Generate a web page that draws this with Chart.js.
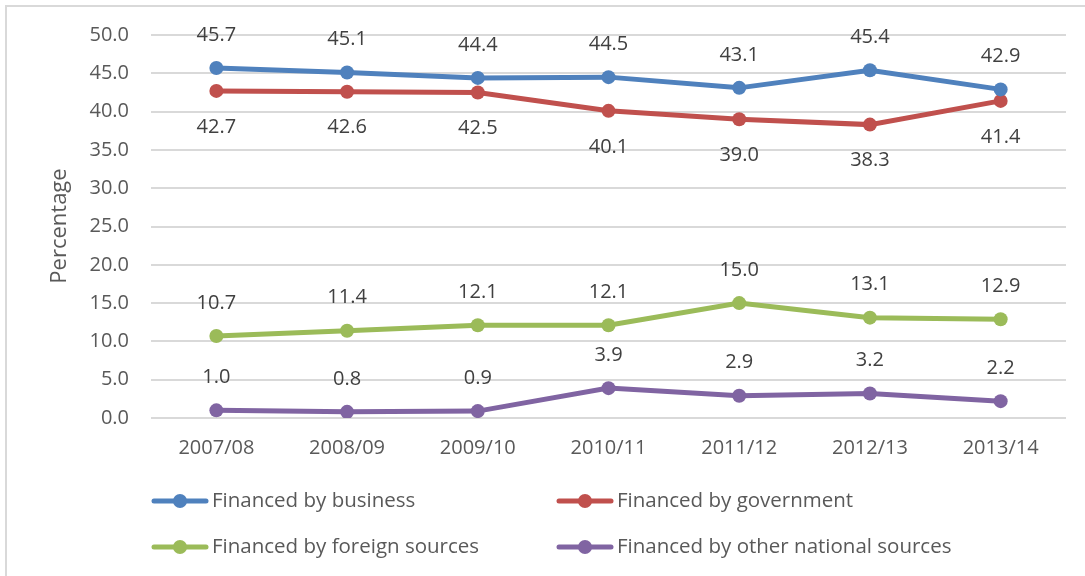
<!DOCTYPE html>
<html><head><meta charset="utf-8">
<script src="https://cdn.jsdelivr.net/npm/chart.js@4.4.1/dist/chart.umd.min.js"></script>
<style>html,body{margin:0;padding:0;background:#fff}#wrap{width:1085px;height:576px;position:relative}</style>
</head><body><div id="wrap"><canvas id="c" width="1085" height="576"></canvas></div>
<script>
const categories = ["2007/08","2008/09","2009/10","2010/11","2011/12","2012/13","2013/14"];
const business = [45.7,45.1,44.4,44.5,43.1,45.4,42.9];
const government = [42.7,42.6,42.5,40.1,39.0,38.3,41.4];
const foreign = [10.7,11.4,12.1,12.1,15.0,13.1,12.9];
const otherNational = [1.0,0.8,0.9,3.9,2.9,3.2,2.2];
const seriesNames = ["Financed by business","Financed by government","Financed by foreign sources","Financed by other national sources"];
const colors = ["#4f81bd","#c0504d","#9bbb59","#8064a2"];
const labelPos = ["above","below","above","above"];
const axisTitle = "Percentage";

const FONT = "'Open Sans', 'Liberation Sans', sans-serif";

const mk = (i, data) => ({
  label: seriesNames[i], data, borderColor: colors[i], backgroundColor: colors[i],
  borderWidth: 5, pointRadius: 7, pointHoverRadius: 7, pointBorderWidth: 0, tension: 0,
  labelPos: labelPos[i]
});

const decor = {
  id: 'decor',
  afterDatasetsDraw(chart) {
    const ctx = chart.ctx;
    ctx.save();
    ctx.font = "20px " + FONT;
    ctx.fillStyle = "#404040";
    ctx.textAlign = "center";
    ctx.textBaseline = "middle";
    chart.data.datasets.forEach((ds, di) => {
      const meta = chart.getDatasetMeta(di);
      meta.data.forEach((pt, i) => {
        const dy = ds.labelPos === 'below' ? 36 : -33;
        ctx.fillText(ds.data[i].toFixed(1), pt.x, pt.y + dy);
      });
    });
    ctx.restore();
  },
  afterDraw(chart) {
    const ctx = chart.ctx;
    ctx.save();
    ctx.strokeStyle = "#d9d9d9"; ctx.lineWidth = 2;
    ctx.beginPath(); ctx.moveTo(6, 1085); ctx.lineTo(6, 6); ctx.lineTo(1085, 6); ctx.stroke();
    // axis title
    ctx.save();
    ctx.translate(60, 226); ctx.rotate(-Math.PI/2);
    ctx.font = "22px " + FONT; ctx.fillStyle = "#595959";
    ctx.textAlign = "center"; ctx.textBaseline = "middle";
    ctx.fillText(axisTitle, 0, 0);
    ctx.restore();
    // legend
    const pos = [[152, 501],[557, 501],[152, 547],[557, 547]];
    ctx.font = "20.5px " + FONT;
    ctx.textBaseline = "middle"; ctx.textAlign = "left";
    chart.data.datasets.forEach((ds, i) => {
      const [x, y] = pos[i];
      ctx.strokeStyle = ds.borderColor; ctx.lineWidth = 5; ctx.lineCap = 'round';
      ctx.beginPath(); ctx.moveTo(x+2, y); ctx.lineTo(x+54, y); ctx.stroke();
      ctx.fillStyle = ds.borderColor;
      ctx.beginPath(); ctx.arc(x+28, y, 7, 0, Math.PI*2); ctx.fill();
      ctx.fillStyle = "#595959";
      ctx.fillText(ds.label, x+60, y);
    });
    ctx.restore();
  }
};

new Chart(document.getElementById('c'), {
  type: 'line',
  data: { labels: categories, datasets: [mk(0,business), mk(1,government), mk(2,foreign), mk(3,otherNational)] },
  options: {
    responsive: false, animation: false,
    layout: { padding: { left: 0, right: 19, top: 35, bottom: 0 } },
    plugins: { legend: { display: false }, tooltip: { enabled: false } },
    scales: {
      x: {
        offset: true,
        grid: { display: false, drawTicks: false },
        border: { display: false },
        ticks: { color: "#595959", font: { size: 20, family: FONT }, padding: 18, maxRotation: 0 },
        afterFit(s) { s.height = 158; }
      },
      y: {
        min: 0, max: 50,
        grid: { color: "#d9d9d9", lineWidth: 2, drawTicks: false },
        border: { display: false },
        ticks: { stepSize: 5, color: "#595959", font: { size: 20, family: FONT }, padding: 22,
          callback: v => Number(v).toFixed(1) },
        afterFit(s) { s.width = 151; }
      }
    }
  },
  plugins: [decor]
});
</script></body></html>
